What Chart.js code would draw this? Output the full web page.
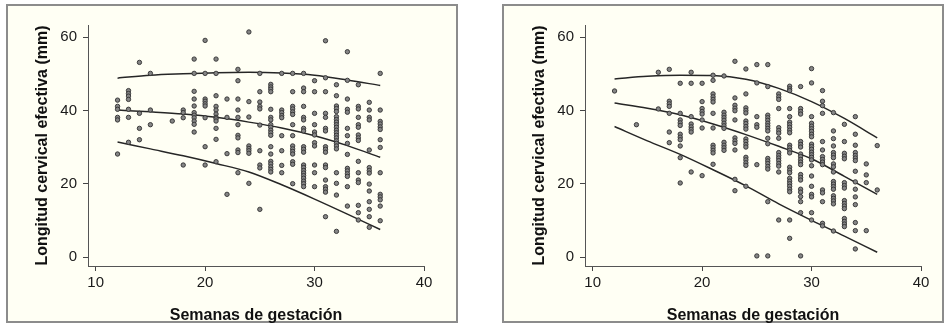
<!DOCTYPE html>
<html lang="es">
<head>
<meta charset="UTF-8">
<title>Longitud cervical efectiva</title>
<script src="https://cdn.jsdelivr.net/npm/chart.js"></script>
<style>
    body {
        margin: 0;
        background: #fff;
        width: 946px;
        height: 324px;
        position: relative;
        overflow: hidden;
    }
    .frame {
        position: absolute;
        top: 4px;
        height: 315px;
        border: 2px solid #8c8c8c;
        background: #fffff4;
    }
    #frameA { left: 6px; width: 448px; }
    #frameB { left: 502px; width: 438px; }
    canvas { position: absolute; top: 4px; }
    #chartA { left: 6px; }
    #chartB { left: 503px; }
</style>
</head>
<body>
<div class="frame" id="frameA"></div>
<div class="frame" id="frameB"></div>
<canvas id="chartA" width="452" height="320"></canvas>
<canvas id="chartB" width="442" height="320"></canvas>

<script>
    // tick labels
    const xTicks = [10, 20, 30, 40];
    const yTicks = [0, 20, 40, 60];

    // weeks where the percentile curves were read
    const curveWeeks = [12, 15, 18, 21, 24, 27, 30, 33, 36];

    // left panel: points per week of gestation
    const leftWeeks = [12, 13, 14, 15, 17, 18, 19, 20, 21, 22, 23, 24, 25, 26, 27, 28, 29, 30, 31, 32, 33, 34, 35, 36];
    const leftLengths = [
        [42.8, 41.1, 40.3, 38.1, 37.4, 28.1],
        [45.4, 44.6, 43.9, 43.0, 40.3, 38.1, 31.3],
        [53.1, 39.2, 35.1, 32.0],
        [50.1, 40.1, 36.1],
        [37.1],
        [40.1, 39.4, 38.0, 25.1],
        [54.0, 50.1, 45.2, 43.1, 41.2, 39.4, 38.7, 38.0, 37.1, 36.2, 34.1],
        [59.1, 50.1, 43.1, 42.5, 41.8, 41.2, 38.0, 30.1, 25.1],
        [54.0, 50.1, 44.0, 41.1, 40.1, 39.0, 38.1, 37.7, 37.1, 35.1, 32.1, 26.0],
        [43.1, 38.1, 28.2, 17.1],
        [51.2, 48.1, 43.1, 40.1, 38.1, 36.1, 33.2, 32.5, 29.2, 28.5, 23.0],
        [61.4, 42.4, 38.2, 30.3, 29.6, 29.0, 28.3, 20.1],
        [50.1, 45.1, 42.3, 41.1, 40.4, 36.0, 29.0, 25.1, 24.3, 13.0],
        [47.1, 46.4, 45.8, 45.1, 40.3, 38.1, 37.4, 36.1, 35.4, 34.6, 33.9, 33.2, 30.1, 28.1, 26.1, 25.4, 24.6, 23.9, 23.2],
        [50.1, 40.1, 39.4, 38.6, 38.0, 33.1, 29.0, 25.0, 23.0],
        [50.1, 45.1, 41.1, 40.4, 39.6, 38.9, 36.1, 33.1, 30.3, 29.5, 28.8, 28.1, 26.0, 25.3, 20.0],
        [50.1, 46.1, 45.1, 41.1, 38.1, 37.4, 35.1, 34.4, 30.1, 29.4, 28.6, 25.1, 24.4, 23.6, 22.9, 22.2, 21.5, 20.7, 20.0, 19.2],
        [48.1, 45.1, 39.2, 36.1, 34.1, 33.3, 31.2, 30.3, 25.1, 23.0, 19.2],
        [59.0, 48.9, 45.1, 39.2, 38.1, 35.1, 34.4, 30.1, 29.4, 28.6, 25.1, 24.4, 21.0, 19.2, 18.5, 17.7, 11.0],
        [47.0, 44.0, 41.2, 40.5, 39.7, 38.3, 37.5, 36.8, 36.1, 35.4, 34.6, 33.9, 33.2, 32.5, 31.7, 31.0, 30.3, 29.5, 23.0, 20.1, 16.9, 7.0],
        [56.0, 48.2, 43.1, 40.3, 39.5, 35.1, 33.1, 31.0, 28.0, 24.2, 23.5, 22.7, 22.0, 19.2, 13.9],
        [47.0, 41.1, 40.4, 38.1, 36.1, 35.4, 33.3, 32.5, 31.8, 26.1, 23.0, 21.0, 20.3, 14.1, 12.1, 10.1],
        [42.2, 40.1, 38.1, 37.4, 29.2, 24.4, 23.6, 22.9, 19.9, 18.0, 15.1, 13.0, 11.0, 8.1],
        [50.1, 40.1, 37.0, 36.3, 35.5, 34.8, 32.0, 29.9, 23.0, 17.1, 16.4, 15.6, 13.9, 9.9]
    ];
    const leftUpper = [48.8, 49.6, 50.0, 50.3, 50.4, 50.2, 49.6, 48.3, 46.8];
    const leftMiddle = [40.1, 39.6, 39.0, 38.1, 36.8, 35.2, 33.1, 30.4, 27.2];
    const leftLower = [31.4, 29.5, 27.6, 25.5, 23.2, 19.7, 15.8, 11.7, 7.5];

    // right panel
    const rightWeeks = [12, 14, 16, 17, 18, 19, 20, 21, 22, 23, 24, 25, 26, 27, 28, 29, 30, 31, 32, 33, 34, 35, 36];
    const rightLengths = [
        [45.3],
        [36.1],
        [50.4, 40.4],
        [51.2, 42.5, 41.8, 41.1, 39.2, 34.1, 31.2],
        [47.4, 39.2, 37.4, 36.6, 35.9, 33.5, 32.7, 32.0, 30.3, 27.1, 20.2],
        [50.4, 47.4, 38.3, 36.3, 35.5, 34.8, 34.1, 23.2],
        [47.4, 42.4, 40.5, 39.7, 39.0, 37.4, 35.2, 22.2],
        [49.6, 48.2, 44.5, 43.7, 43.0, 42.3, 39.2, 35.2, 30.5, 29.8, 29.1, 28.4, 25.3],
        [49.4, 39.5, 38.7, 38.0, 37.3, 36.5, 35.8, 35.1, 31.3, 30.5, 29.8, 29.1],
        [53.4, 43.4, 41.4, 40.6, 39.9, 37.4, 32.5, 31.7, 31.0, 29.2, 21.2, 18.1],
        [51.3, 44.5, 40.7, 40.0, 39.3, 37.1, 36.4, 35.6, 34.9, 32.2, 31.5, 30.7, 30.0, 27.2, 26.5, 25.7, 25.0, 19.3],
        [52.5, 47.5, 38.3, 36.1, 35.4, 25.2, 0.3],
        [52.5, 46.5, 38.7, 38.0, 37.3, 36.5, 35.8, 35.1, 34.4, 32.4, 30.9, 26.9, 26.2, 25.5, 24.7, 24.0, 15.1, 0.3],
        [44.5, 43.7, 43.0, 40.5, 35.3, 34.5, 33.8, 32.4, 28.5, 27.7, 27.0, 26.3, 25.5, 24.8, 23.2, 10.1],
        [46.6, 45.9, 45.4, 40.5, 38.3, 36.8, 36.1, 35.4, 34.6, 33.9, 30.5, 29.8, 29.1, 28.4, 24.5, 23.7, 23.0, 21.5, 20.7, 20.0, 19.3, 18.5, 17.8, 10.1, 5.1],
        [46.5, 40.5, 39.7, 39.0, 31.5, 30.7, 30.0, 28.1, 27.4, 26.6, 25.9, 25.2, 22.5, 21.7, 21.0, 18.5, 17.7, 16.5, 15.1, 12.1, 0.3],
        [51.4, 47.5, 38.3, 36.5, 35.7, 35.0, 34.3, 33.5, 32.8, 30.8, 30.1, 29.4, 28.6, 27.9, 27.2, 26.5, 24.9, 22.1, 19.3, 17.1, 16.4, 12.1, 10.1],
        [45.4, 42.5, 41.3, 39.2, 31.5, 29.2, 27.4, 26.6, 25.9, 25.2, 18.3, 17.5, 15.1, 9.2, 8.5],
        [39.4, 34.4, 32.3, 30.3, 28.5, 27.8, 27.1, 25.4, 24.6, 23.2, 20.6, 19.9, 19.2, 18.5, 16.7, 16.0, 15.3, 14.5, 7.1],
        [36.2, 31.5, 28.3, 27.5, 26.8, 20.3, 19.5, 18.8, 15.4, 14.6, 13.9, 13.2, 10.5, 9.7, 9.0, 8.3],
        [38.3, 33.5, 30.5, 28.5, 27.7, 27.0, 26.3, 23.4, 20.5, 18.5, 16.4, 14.3, 9.4, 7.2, 2.2],
        [25.4, 22.4, 20.3, 7.2],
        [30.4, 18.3]
    ];
    const rightUpper = [48.6, 49.3, 49.6, 49.5, 48.5, 46.0, 42.4, 37.8, 32.5];
    const rightMiddle = [42.0, 40.6, 38.8, 36.3, 33.4, 30.2, 26.8, 22.0, 17.1];
    const rightLower = [35.6, 31.7, 28.0, 23.8, 19.4, 14.5, 10.0, 5.7, 1.3];

    const fontFamily = '"Liberation Sans", Arial, Helvetica, sans-serif';

    function toPoints(weeks, lists) {
        const pts = [];
        weeks.forEach((w, i) => lists[i].forEach(v => pts.push({ x: w, y: v })));
        return pts;
    }

    function curve(values) {
        return {
            type: 'line',
            data: curveWeeks.map((w, i) => ({ x: w, y: values[i] })),
            borderColor: '#262626',
            borderWidth: 1.5,
            pointRadius: 0,
            fill: false,
            cubicInterpolationMode: 'monotone'
        };
    }

    function makeChart(id, weeks, lists, upper, middle, lower, rightPad) {
        const ctx = document.getElementById(id).getContext('2d');
        return new Chart(ctx, {
            type: 'scatter',
            data: {
                datasets: [
                    {
                        data: toPoints(weeks, lists),
                        pointRadius: 2.2,
                        borderWidth: 0.9,
                        borderColor: '#303030',
                        backgroundColor: '#858585'
                    },
                    curve(upper),
                    curve(middle),
                    curve(lower)
                ]
            },
            options: {
                responsive: false,
                animation: false,
                layout: { padding: { top: 21, right: rightPad, left: 0, bottom: 0 } },
                plugins: { legend: { display: false }, tooltip: { enabled: false } },
                scales: {
                    x: {
                        type: 'linear',
                        min: 9.3,
                        max: 40,
                        afterBuildTicks: s => { s.ticks = xTicks.map(v => ({ value: v })); },
                        afterFit: s => { s.height = 58; },
                        grid: { drawOnChartArea: false, drawTicks: true, tickLength: 5, color: '#444' },
                        border: { display: true, color: '#555', width: 1 },
                        ticks: { color: '#1a1a1a', padding: 3, font: { family: fontFamily, size: 15 } },
                        title: {
                            display: true,
                            text: 'Semanas de gestación',
                            color: '#111',
                            padding: { top: 0, bottom: -1 },
                            font: { family: fontFamily, size: 16, weight: 'bold' }
                        }
                    },
                    y: {
                        min: -2.45,
                        max: 63.3,
                        afterBuildTicks: s => { s.ticks = yTicks.map(v => ({ value: v })); },
                        afterFit: s => { s.width = 82; },
                        grid: { drawOnChartArea: false, drawTicks: true, tickLength: 5, color: '#444' },
                        border: { display: true, color: '#555', width: 1 },
                        ticks: { color: '#1a1a1a', padding: 6, font: { family: fontFamily, size: 15 } },
                        title: {
                            display: true,
                            text: 'Longitud cervical efectiva (mm)',
                            color: '#111',
                            padding: { top: 27, bottom: 0 },
                            font: { family: fontFamily, size: 16, weight: 'bold' }
                        }
                    }
                }
            }
        });
    }

    makeChart('chartA', leftWeeks, leftLengths, leftUpper, leftMiddle, leftLower, 34);
    makeChart('chartB', rightWeeks, rightLengths, rightUpper, rightMiddle, rightLower, 24);
</script>
</body>
</html>
